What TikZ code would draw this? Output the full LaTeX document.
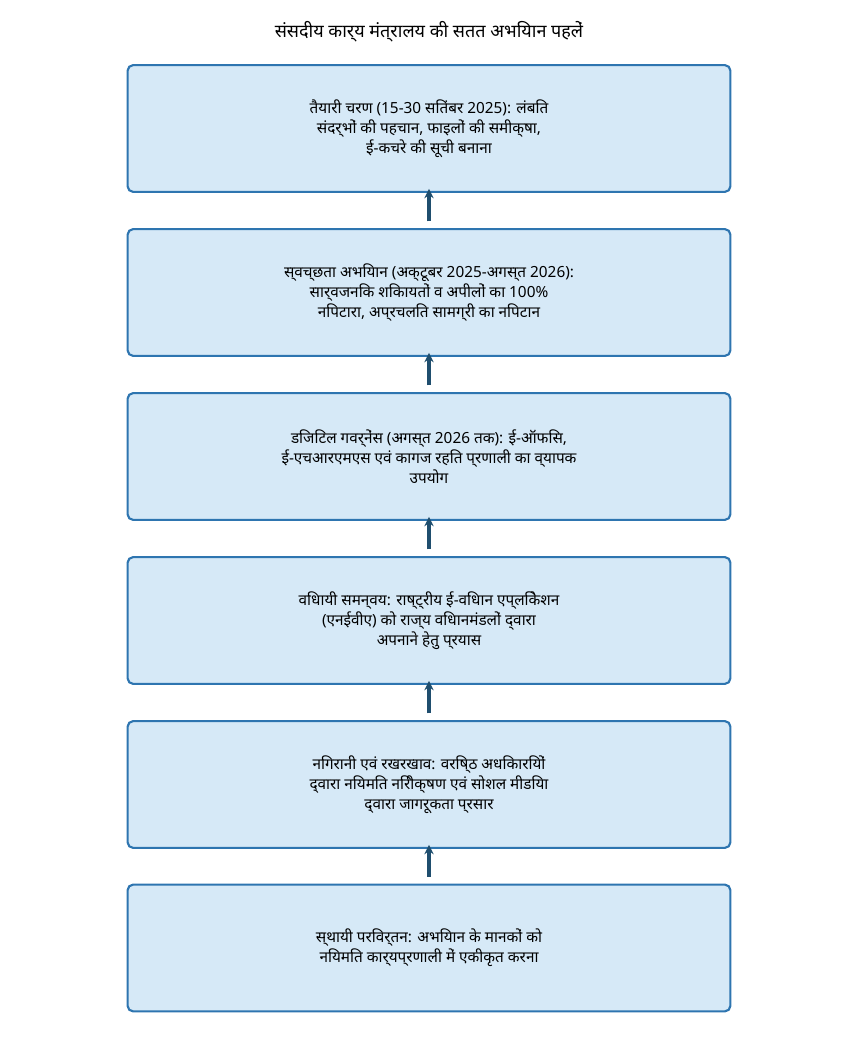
\documentclass[tikz,border=0pt]{standalone}
\usepackage{fontspec}
\setmainfont{Noto Sans}
\usetikzlibrary{arrows.meta, positioning}
\definecolor{boxfill}{HTML}{D6E9F7}
\definecolor{boxline}{HTML}{2E75B0}
\definecolor{arrowcol}{HTML}{1F4E6E}
\tikzset{%
	stage box/.style={
		draw=boxline,
		fill=boxfill,
		line width=1.6pt,
		rounded corners=4pt,
		minimum width=452pt,
		minimum height=95pt,
		align=center,
		font=\fontsize{11.5}{15}\selectfont
	},
	stage arrow/.style={
		-{Stealth[length=7pt,width=7pt]},
		draw=arrowcol,
		line width=2.4pt
	},
}
\begin{document}
\begin{tikzpicture}[x=0.75pt,y=-0.75pt]
	% Canvas
	\useasboundingbox (0,0) rectangle (858,1053);
	
	% Title
	\node[font=\bfseries\fontsize{13.5}{16}\selectfont] (title) at (429,32) {संसदीय कार्य मंत्रालय की सतत अभियान पहलें};
	
	% Stages
	\node[stage box] (prep) at (429,128.5) {तैयारी चरण (15-30 सितंबर 2025): लंबित\\संदर्भों की पहचान, फाइलों की समीक्षा,\\ई-कचरे की सूची बनाना};
	\node[stage box] (drive) at (429,292.5) {स्वच्छता अभियान (अक्टूबर 2025-अगस्त 2026):\\सार्वजनिक शिकायतों व अपीलों का 100\%\\निपटारा, अप्रचलित सामग्री का निपटान};
	\node[stage box] (digital) at (429,456.5) {डिजिटल गवर्नेंस (अगस्त 2026 तक): ई-ऑफिस,\\ई-एचआरएमएस एवं कागज रहित प्रणाली का व्यापक\\उपयोग};
	\node[stage box] (legis) at (429,620.5) {विधायी समन्वय: राष्ट्रीय ई-विधान एप्लिकेशन\\(एनईवीए) को राज्य विधानमंडलों द्वारा\\अपनाने हेतु प्रयास};
	\node[stage box] (watch) at (429,784.5) {निगरानी एवं रखरखाव: वरिष्ठ अधिकारियों\\द्वारा नियमित निरीक्षण एवं सोशल मीडिया\\द्वारा जागरूकता प्रसार};
	\node[stage box] (lasting) at (429,948) {स्थायी परिवर्तन: अभियान के मानकों को\\नियमित कार्यप्रणाली में एकीकृत करना};
	
	% Arrows
	\draw[stage arrow] ([yshift=5pt]drive.north) -- ([yshift=3pt]prep.south);
	\draw[stage arrow] ([yshift=5pt]digital.north) -- ([yshift=3pt]drive.south);
	\draw[stage arrow] ([yshift=5pt]legis.north) -- ([yshift=3pt]digital.south);
	\draw[stage arrow] ([yshift=5pt]watch.north) -- ([yshift=3pt]legis.south);
	\draw[stage arrow] ([yshift=5pt]lasting.north) -- ([yshift=3pt]watch.south);
\end{tikzpicture}
\end{document}
